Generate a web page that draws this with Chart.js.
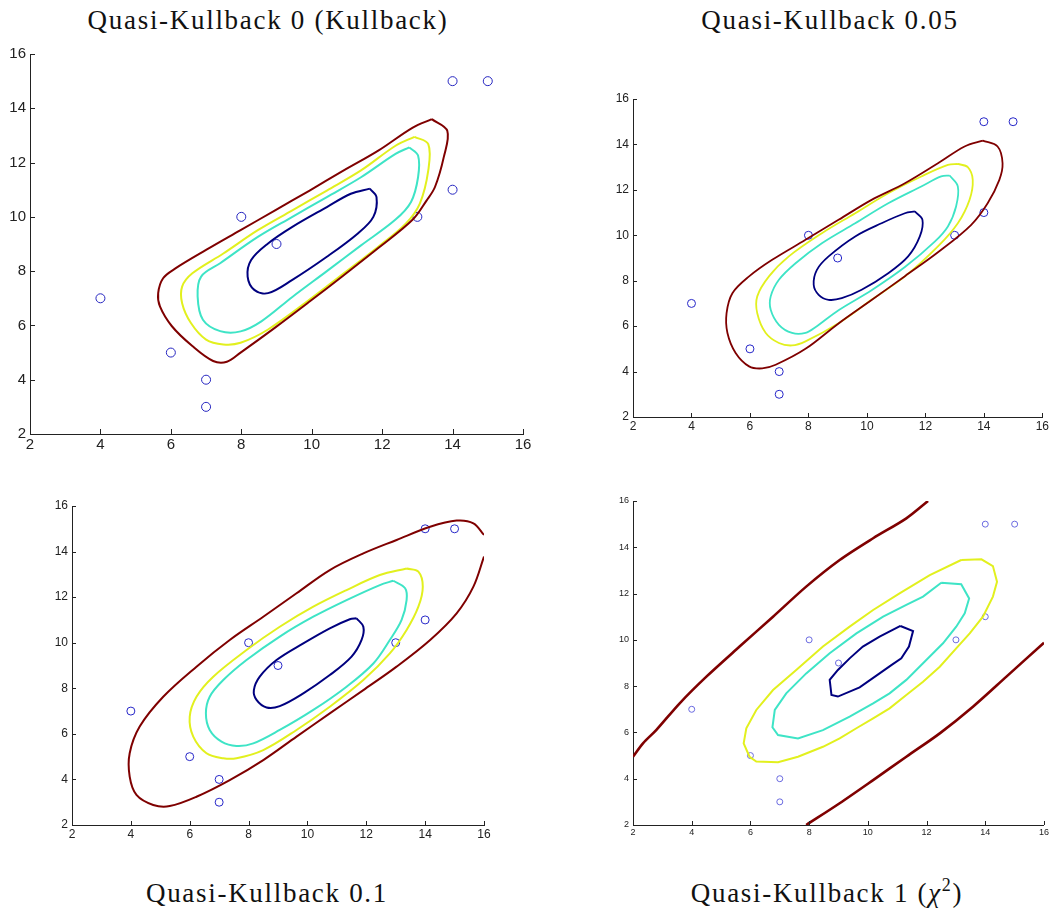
<!DOCTYPE html>
<html>
<head>
<meta charset="utf-8">
<script src="https://cdn.jsdelivr.net/npm/chart.js@4"></script>
<style>
  body { margin: 0; background: #fff; width: 1051px; height: 913px; position: relative; overflow: hidden; }
  canvas { position: absolute; }
  .title { position: absolute; font-family: "Liberation Serif", serif; font-size: 27px; letter-spacing: 1.7px;
           color: #111; white-space: nowrap; line-height: 32px; transform: translateX(-50%); }
  .title i { font-style: italic; }
  .title sup { font-size: 18px; line-height: 0; vertical-align: 11px; }
</style>
</head>
<body>
<div class="title" style="left:268px; top:4px;">Quasi-Kullback 0 (Kullback)</div>
<div class="title" style="left:830px; top:4px;">Quasi-Kullback 0.05</div>
<div class="title" style="left:267px; top:877px;">Quasi-Kullback 0.1</div>
<div class="title" style="left:827px; top:877px;">Quasi-Kullback 1 (<i>χ</i><sup>2</sup>)</div>

<canvas id="c0" width="535" height="418" style="left:0px; top:41px;"></canvas>
<canvas id="c1" width="448" height="355" style="left:603px; top:87px;"></canvas>
<canvas id="c2" width="454" height="356" style="left:42px; top:494px;"></canvas>
<canvas id="c3" width="448" height="361" style="left:603px; top:489px;"></canvas>

<script>
// sample points (same in every panel)
const sampleX = [4, 6, 7, 7, 8, 9, 13, 14, 14, 15];
const sampleY = [7, 5, 4, 3, 10, 9, 10, 11, 15, 15];

const tickValues = [2, 4, 6, 8, 10, 12, 14, 16];

// contour colours, outer to inner (jet colormap)
const levelColors = ["#7f0000", "#e2f01e", "#3ee4c6", "#00007f"];

// ---- Quasi-Kullback 0 ----
const kl0Outer = [[13.41,13.6],[13.85,13.17],[13.75,12.2],[13.5,11.1],[13.26,10.6],[12.87,9.9],[11.89,8.85],[10.91,7.85],
  [9.94,6.88],[8.96,5.92],[7.98,5.0],[7.59,4.66],[7.2,4.69],[6.61,5.24],[6.03,5.97],[5.69,6.7],[5.64,7.19],[5.78,7.74],
  [6.13,8.1],[7.0,8.78],[7.98,9.51],[8.96,10.24],[9.94,10.97],[10.91,11.71],[11.89,12.44],[12.87,13.29],[13.41,13.6]];
const kl0Yellow = [[12.92,12.95],[13.31,12.68],[13.31,11.71],[13.07,10.49],[12.67,9.75],[11.89,8.9],[10.91,7.92],[9.94,6.95],
  [8.76,5.85],[7.98,5.36],[7.49,5.3],[7.0,5.48],[6.57,6.09],[6.32,6.82],[6.32,7.43],[6.61,7.92],[7.49,8.65],[8.47,9.51],
  [9.45,10.24],[10.43,10.97],[11.4,11.71],[12.38,12.62],[12.92,12.95]];
const kl0Cyan = [[12.77,12.56],[13.02,12.26],[13.02,11.46],[12.82,10.55],[12.38,9.9],[11.4,8.95],[10.43,8.0],[9.45,7.05],
  [8.57,6.15],[7.98,5.78],[7.4,5.79],[6.91,6.21],[6.76,7.07],[6.86,7.8],[7.4,8.29],[8.47,9.26],[9.45,10.0],[10.43,10.73],
  [11.4,11.46],[12.38,12.32],[12.77,12.56]];
const kl0Inner = [[11.65,11.04],[11.84,10.73],[11.75,10.0],[11.31,9.39],[10.43,8.53],[9.45,7.68],[8.76,7.19],[8.37,7.31],
  [8.18,7.8],[8.28,8.41],[8.76,9.02],[9.45,9.63],[10.43,10.36],[11.11,10.85],[11.65,11.04]];

// ---- Quasi-Kullback 0.05 ----
const kl005Outer = [[13.96,14.17],[14.47,13.91],[14.64,13.17],[14.53,12.44],[14.13,11.41],[13.56,10.45],[12.43,9.25],[11.3,8.2],
  [10.16,7.15],[9.03,6.12],[7.9,5.0],[6.88,4.3],[6.42,4.14],[5.97,4.23],[5.51,4.82],[5.23,5.7],[5.2,6.57],[5.4,7.45],
  [5.97,8.19],[6.76,8.92],[7.9,9.8],[9.03,10.68],[10.16,11.56],[11.3,12.29],[12.43,13.17],[13.34,13.91],[13.96,14.17]];
const kl005Yellow = [[13.11,13.14],[13.45,13.0],[13.62,12.44],[13.51,11.56],[13.11,10.53],[12.43,9.51],[11.3,8.19],[10.16,7.16],
  [9.03,6.13],[7.9,5.33],[7.44,5.15],[6.99,5.26],[6.54,5.7],[6.25,6.57],[6.25,7.31],[6.65,8.19],[7.33,9.07],[8.46,10.09],
  [9.6,10.97],[10.73,11.85],[11.86,12.59],[12.77,13.1],[13.11,13.14]];
const kl005Cyan = [[12.83,12.63],[13.11,12.15],[13.05,11.27],[12.77,10.39],[12.32,9.72],[11.3,8.6],[10.16,7.58],[9.03,6.7],
  [8.24,5.95],[7.9,5.7],[7.44,5.7],[6.99,6.06],[6.71,6.72],[6.71,7.31],[6.99,8.04],[7.56,8.77],[8.46,9.65],[9.6,10.53],
  [10.73,11.41],[11.86,12.15],[12.54,12.59],[12.83,12.63]];
const kl005Inner = [[11.64,11.05],[11.9,10.68],[11.81,9.95],[11.41,9.07],[10.73,8.33],[9.82,7.6],[9.14,7.23],[8.69,7.16],
  [8.35,7.38],[8.18,7.82],[8.29,8.48],[8.69,9.07],[9.6,9.95],[10.5,10.53],[11.3,10.97],[11.64,11.05]];

// ---- Quasi-Kullback 0.1 ----
const kl01Outer = [[16.0,13.78],[15.64,12.46],[15.07,11.29],[14.17,10.12],[13.03,8.95],[11.9,7.92],[10.76,6.9],[9.63,5.88],
  [8.5,4.85],[7.36,3.97],[6.23,3.24],[5.32,2.83],[4.76,2.88],[4.19,3.32],[3.96,4.12],[3.96,5.15],[4.3,6.32],[5.1,7.63],
  [6.23,8.95],[7.36,10.12],[8.5,11.14],[9.63,12.17],[10.76,13.19],[11.9,13.92],[13.03,14.51],[14.17,15.09],[15.07,15.36],
  [15.64,15.24],[16.0,14.73]];
const kl01Yellow = [[13.37,13.26],[13.77,13.12],[13.92,12.46],[13.77,11.58],[13.37,10.56],[12.8,9.53],[11.9,8.36],[10.76,7.19],
  [9.63,6.17],[8.5,5.29],[7.59,4.93],[7.14,4.93],[6.57,5.15],[6.12,5.88],[6.0,6.75],[6.23,7.63],[6.8,8.51],[7.93,9.68],
  [9.06,10.7],[10.2,11.58],[11.33,12.31],[12.46,12.97],[13.37,13.26]];
const kl01Cyan = [[12.92,12.72],[13.32,12.39],[13.37,11.87],[13.2,11.0],[12.8,10.12],[12.24,9.09],[11.33,8.07],[10.2,7.05],
  [9.06,6.17],[8.16,5.58],[7.59,5.47],[7.08,5.66],[6.68,6.17],[6.55,6.9],[6.68,7.63],[7.14,8.36],[7.93,9.24],[9.06,10.27],
  [10.2,11.14],[11.33,11.87],[12.46,12.53],[12.92,12.72]];
const kl01Inner = [[11.67,11.07],[11.9,10.7],[11.84,10.12],[11.5,9.39],[10.76,8.58],[9.86,7.78],[9.06,7.22],[8.61,7.16],
  [8.27,7.49],[8.18,7.92],[8.38,8.51],[8.95,9.24],[9.86,9.97],[10.76,10.63],[11.44,11.03],[11.67,11.07]];

// ---- Quasi-Kullback 1 (chi2) ----
const chiOuterUpper = [[2.0,4.95],[2.34,5.53],[2.79,6.1],[3.59,7.26],[4.5,8.41],[5.63,9.71],[6.77,11.0],[7.9,12.3],
  [9.04,13.45],[10.18,14.39],[11.31,15.25],[12.05,16.0]];
const chiOuterLower = [[7.9,2.0],[9.04,2.94],[10.18,3.94],[11.31,4.95],[12.45,5.96],[13.58,7.11],[14.72,8.41],[16.0,9.88]];
const chiYellow = [[13.18,13.45],[13.87,13.48],[14.26,13.19],[14.4,12.51],[14.26,11.87],[13.92,11.0],[13.47,10.28],[13.01,9.63],
  [12.45,8.84],[11.88,8.19],[11.31,7.62],[10.74,7.04],[10.18,6.61],[9.61,6.18],[9.04,5.74],[8.47,5.38],[7.62,4.95],[6.94,4.71],
  [6.2,4.74],[5.97,4.95],[5.77,5.53],[5.86,6.18],[6.2,6.97],[6.77,7.83],[7.56,8.7],[8.47,9.71],[9.38,10.57],[10.18,11.29],
  [11.08,12.01],[12.11,12.8],[13.18,13.45]];
const chiCyan = [[12.5,12.47],[13.18,12.4],[13.45,11.79],[13.3,11.15],[13.01,10.57],[12.56,9.85],[11.88,8.99],[11.31,8.27],
  [10.74,7.69],[10.18,7.26],[9.38,6.68],[8.47,6.1],[7.62,5.74],[6.94,5.89],[6.75,6.22],[6.83,6.97],[7.22,7.69],[7.9,8.55],
  [8.7,9.42],[9.61,10.28],[10.52,11.0],[11.31,11.51],[11.88,11.87],[12.5,12.47]];
const chiInner = [[11.11,10.6],[11.54,10.38],[11.4,9.71],[11.14,9.2],[10.8,8.91],[10.4,8.55],[9.72,7.95],[8.98,7.55],
  [8.76,7.62],[8.7,8.27],[8.98,8.7],[9.38,9.2],[9.83,9.71],[10.4,10.14],[11.11,10.6]];

// draws short MATLAB-style tick marks pointing into the plot
const inwardTicks = {
  id: "inwardTicks",
  afterDatasetsDraw(chart, args, opts) {
    const ctx = chart.ctx;
    const area = chart.chartArea;
    const len = opts.length || 5;
    ctx.save();
    ctx.strokeStyle = "#222";
    ctx.lineWidth = 1;
    ctx.beginPath();
    chart.scales.x.ticks.forEach(t => {
      const px = Math.round(chart.scales.x.getPixelForValue(t.value)) + 0.5;
      ctx.moveTo(px, area.bottom);
      ctx.lineTo(px, area.bottom - len);
    });
    chart.scales.y.ticks.forEach(t => {
      const py = Math.round(chart.scales.y.getPixelForValue(t.value)) + 0.5;
      ctx.moveTo(area.left, py);
      ctx.lineTo(area.left + len, py);
    });
    ctx.stroke();
    ctx.restore();
  }
};

function toXY(list) {
  return list.map(p => ({ x: p[0], y: p[1] }));
}

function axis(fontSize, isY) {
  return {
    type: "linear",
    min: 2,
    max: 16,
    afterBuildTicks: scale => { scale.ticks = tickValues.map(v => ({ value: v })); },
    afterFit: scale => {
      if (isY) scale.width = 30; else scale.height = 25;
    },
    grid: { display: true, drawOnChartArea: false, drawTicks: false },
    border: { display: true, color: "#222", width: 1 },
    ticks: {
      autoSkip: false,
      maxRotation: 0,
      padding: isY ? 4 : 2,
      color: "#222",
      font: { family: "Liberation Sans", size: fontSize }
    }
  };
}

function makePanel(id, curves, cfg) {
  const datasets = curves.map(c => ({
    data: toXY(c.points),
    showLine: true,
    borderColor: levelColors[c.level],
    borderWidth: c.width || cfg.lineWidth,
    pointRadius: 0,
    tension: c.tension !== undefined ? c.tension : cfg.tension,
    fill: false
  }));
  datasets.push({
    data: sampleX.map((x, i) => ({ x: x, y: sampleY[i] })),
    showLine: false,
    pointStyle: "circle",
    pointRadius: cfg.markerRadius,
    pointBorderWidth: 1,
    pointBorderColor: cfg.markerColor,
    pointBackgroundColor: "rgba(0,0,0,0)"
  });
  new Chart(document.getElementById(id), {
    type: "scatter",
    data: { datasets: datasets },
    options: {
      responsive: false,
      animation: false,
      layout: { padding: { left: 0, top: 12, right: cfg.padRight, bottom: 0 } },
      plugins: {
        legend: { display: false },
        tooltip: { enabled: false },
        inwardTicks: { length: cfg.tickLen }
      },
      scales: {
        x: axis(cfg.fontSize, false),
        y: axis(cfg.fontSize, true)
      }
    },
    plugins: [inwardTicks]
  });
}

makePanel("c0", [
  { points: kl0Outer, level: 0 },
  { points: kl0Yellow, level: 1 },
  { points: kl0Cyan, level: 2 },
  { points: kl0Inner, level: 3 }
], { fontSize: 15, lineWidth: 2, tension: 0.35, markerRadius: 4.5, markerColor: "#2626c0", tickLen: 5, padRight: 12 });

makePanel("c1", [
  { points: kl005Outer, level: 0 },
  { points: kl005Yellow, level: 1 },
  { points: kl005Cyan, level: 2 },
  { points: kl005Inner, level: 3 }
], { fontSize: 12, lineWidth: 1.8, tension: 0.35, markerRadius: 4, markerColor: "#2626c8", tickLen: 4, padRight: 7 });

makePanel("c2", [
  { points: kl01Outer, level: 0 },
  { points: kl01Yellow, level: 1 },
  { points: kl01Cyan, level: 2 },
  { points: kl01Inner, level: 3 }
], { fontSize: 12, lineWidth: 2, tension: 0.35, markerRadius: 4, markerColor: "#2626c8", tickLen: 4, padRight: 12 });

makePanel("c3", [
  { points: chiOuterUpper, level: 0, width: 2.6, tension: 0.3 },
  { points: chiOuterLower, level: 0, width: 2.6, tension: 0.3 },
  { points: chiYellow, level: 1 },
  { points: chiCyan, level: 2 },
  { points: chiInner, level: 3 }
], { fontSize: 9, lineWidth: 2, tension: 0, markerRadius: 3, markerColor: "#6a6ae0", tickLen: 4, padRight: 7 });
</script>
</body>
</html>
